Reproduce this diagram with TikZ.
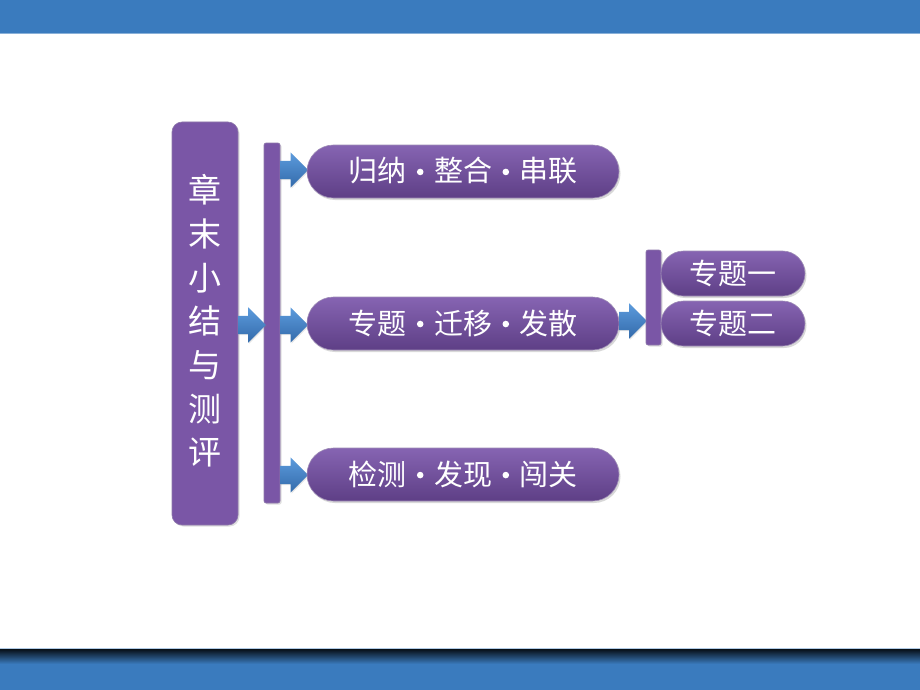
\documentclass[tikz,border=0pt]{standalone}
\usepackage{fontspec}
\newfontfamily\cjk{Noto Sans CJK SC}
\usetikzlibrary{shapes.arrows,shadows}
\definecolor{barblue}{HTML}{3A7BBE}
\definecolor{purp}{HTML}{7A56A6}
\definecolor{purpdark}{HTML}{5E3F86}
\definecolor{purplight}{HTML}{8664B2}
\definecolor{arrowblue}{HTML}{3C7DC8}
\definecolor{arrowlight}{HTML}{5C9BDD}
\newcommand{\mydot}{\hspace{10.5pt}\tikz[baseline=-10pt]\fill[white] (0,0) circle (3.3pt);\hspace{10.5pt}}
\tikzset{
  pbox/.style={draw=purpdark!70, line width=0.6pt, fill=purp, drop shadow={opacity=0.25, shadow xshift=1.5pt, shadow yshift=-1.5pt}},
  pill/.style={draw=purpdark!60, line width=0.6pt, top color=purplight, bottom color=purpdark, rounded corners=26.5pt, drop shadow={opacity=0.3, shadow xshift=1.5pt, shadow yshift=-2pt}},
  spill/.style={draw=purpdark!60, line width=0.6pt, top color=purplight, bottom color=purpdark, rounded corners=22.5pt, drop shadow={opacity=0.3, shadow xshift=1.5pt, shadow yshift=-2pt}},
  blk/.style={single arrow, draw=none, top color=arrowlight, bottom color=arrowblue!85!black, single arrow head extend=8.5pt, minimum height=#1, minimum width=35pt, inner sep=9pt, anchor=west, drop shadow={opacity=0.2, shadow xshift=1pt, shadow yshift=-1pt}},
  lbl/.style={font=\cjk\fontsize{29}{29}\selectfont, text=white},
  vlbl/.style={font=\cjk\fontsize{33}{43.7}\selectfont, text=white, align=center},
}
\begin{document}
\begin{tikzpicture}[x=1pt,y=-1pt]
\useasboundingbox (0,0) rectangle (920,690);
\fill[white] (0,0) rectangle (920,690);
% top bar
\fill[barblue] (0,0) rectangle (920,33);
\fill[barblue!60!white] (0,33) rectangle (920,34.5);
% bottom bar
\fill[barblue!40!white] (0,648) rectangle (920,649.5);
\shade[top color=black!85!barblue, bottom color=barblue] (0,649.5) rectangle (920,664);
\fill[barblue] (0,664) rectangle (920,690);

% left tall box
\path[pbox, rounded corners=10pt] (172,122) rectangle (238,525);
\node[vlbl] (title) at (205,321) {章\\末\\小\\结\\与\\测\\评};

% vertical bar 1
\path[pbox, rounded corners=2pt] (264,143) rectangle (280,503);

% arrows
\node[blk=27pt] (a0) at (238,325) {};
\node[blk=28pt] (a1) at (280,170) {};
\node[blk=28pt] (a2) at (280,325) {};
\node[blk=28pt] (a3) at (280,475) {};

% pills
\path[pill] (307,145) rectangle (619,198);
\node[lbl] (p1) at (463,171) {归纳\mydot 整合\mydot 串联};
\path[pill] (307,297) rectangle (619,350);
\node[lbl] (p2) at (463,323) {专题\mydot 迁移\mydot 发散};
\path[pill] (307,448) rectangle (619,501);
\node[lbl] (p3) at (463,474) {检测\mydot 发现\mydot 闯关};

% arrow to bar2
\node[blk=27pt] (a4) at (619,321) {};
% vertical bar 2
\path[pbox, rounded corners=2pt] (646,250) rectangle (661,345);

% small pills
\path[spill] (661,251) rectangle (805,296);
\node[lbl] (s1) at (733,273) {专题一};
\path[spill] (661,301) rectangle (805,346);
\node[lbl] (s2) at (733,323) {专题二};
\end{tikzpicture}
\end{document}
